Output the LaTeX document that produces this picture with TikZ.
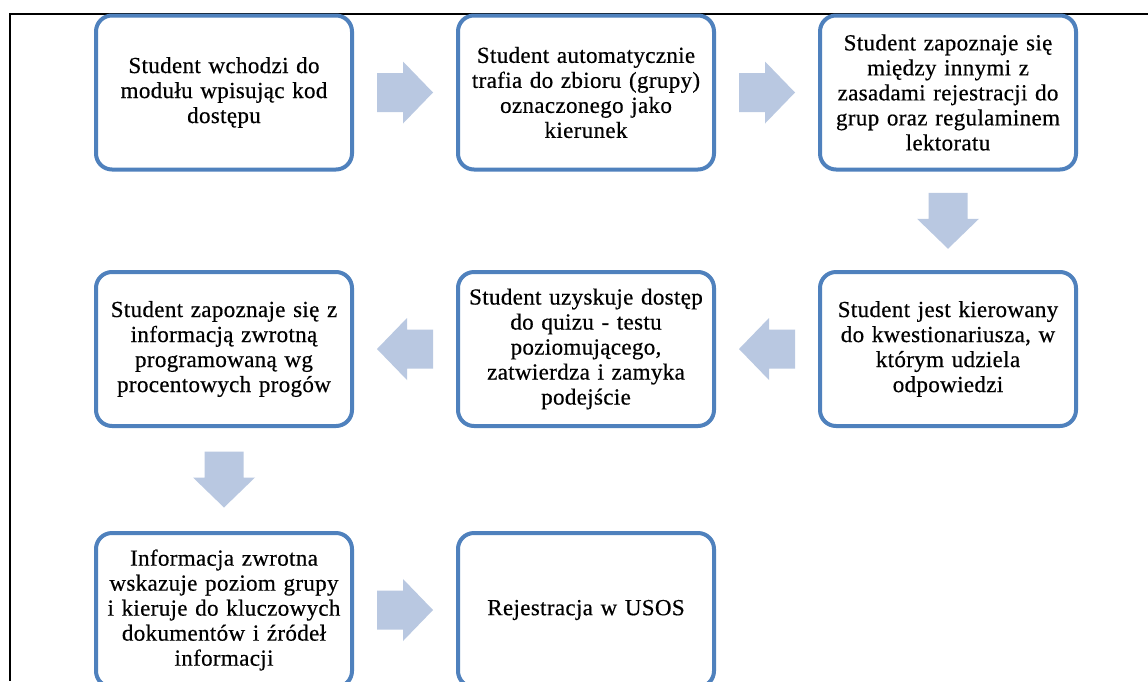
\documentclass[tikz,border=0pt]{standalone}
\usepackage{fontspec}
\usetikzlibrary{calc}
\setmainfont{Liberation Serif}
\definecolor{boxblue}{RGB}{79,129,189}
\definecolor{arrfill}{RGB}{185,200,225}
\tikzset{
  x=1pt, y=-1pt,
  stepbox/.style={draw=boxblue, line width=4pt, fill=white, rounded corners=16pt,
    minimum width=256pt, minimum height=154pt, text width=250pt, align=center,
    inner sep=0pt, font=\fontsize{23}{25}\selectfont\addfontfeatures{FakeBold=0.5,LetterSpace=1.5}},
  blockarrow/.pic={\fill[arrfill] (-28,-19.5) -- (-2,-19.5) -- (-2,-31) -- (28,0) -- (-2,31) -- (-2,19.5) -- (-28,19.5) -- cycle;}
}
\begin{document}
\begin{tikzpicture}
\useasboundingbox (0,0) rectangle (1148,681);
\fill[white] (0,0) rectangle (1148,681);
\draw[line width=2pt] (9,14) -- (1148,14);
\draw[line width=2pt] (10,14) -- (10,681);
\node[stepbox] (b1) at (224,92.5) {Student wchodzi do\\modułu wpisując kod\\dostępu};
\node[stepbox] (b2) at (586,92.5) {Student automatycznie\\trafia do zbioru (grupy)\\oznaczonego jako\\kierunek};
\node[stepbox] (b3) at (948,92.5) {Student zapoznaje się\\między innymi z\\zasadami rejestracji do\\grup oraz regulaminem\\lektoratu};
\node[stepbox] (b4) at (948,349) {Student jest kierowany\\do kwestionariusza, w\\którym udziela\\odpowiedzi};
\node[stepbox] (b5) at (586,349) {Student uzyskuje dostęp\\do quizu - testu\\poziomującego,\\zatwierdza i zamyka\\podejście};
\node[stepbox] (b6) at (224,349) {Student zapoznaje się z\\informacją zwrotną\\programowaną wg\\procentowych progów};
\node[stepbox] (b7) at (224,610) {Informacja zwrotna\\wskazuje poziom grupy\\i kieruje do kluczowych\\dokumentów i źródeł\\informacji};
\node[stepbox] (b8) at (586,610) {Rejestracja w USOS};
\pic at ($(b1.east)!0.5!(b2.west)$) {blockarrow};
\pic at ($(b2.east)!0.5!(b3.west)$) {blockarrow};
\pic[rotate=-90] at ($(b3.south)!0.5!(b4.north)$) {blockarrow};
\pic[rotate=180] at ($(b4.west)!0.5!(b5.east)$) {blockarrow};
\pic[rotate=180] at ($(b5.west)!0.5!(b6.east)$) {blockarrow};
\pic[rotate=-90] at ($(b6.south)!0.5!(b7.north)$) {blockarrow};
\pic at ($(b7.east)!0.5!(b8.west)$) {blockarrow};
\end{tikzpicture}
\end{document}
